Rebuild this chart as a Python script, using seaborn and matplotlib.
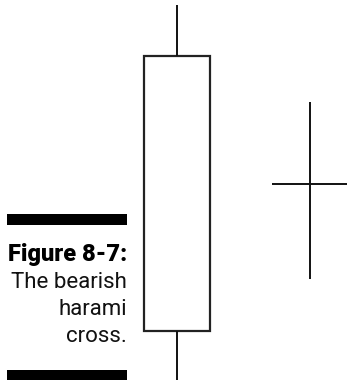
import matplotlib
matplotlib.use("Agg")
import matplotlib.pyplot as plt
import seaborn as sns
from matplotlib.patches import Rectangle

sns.set_theme(style="white")
plt.rcParams['font.family'] = ['Roboto', 'DejaVu Sans']

# Candle data (price units)
candles = ["Day 1", "Day 2"]
opens = [49, 196]
highs = [375, 278]
lows = [0, 101]
closes = [324, 196]

caption_title = "Figure 8-7:"
caption_lines = ["The bearish", "harami", "cross."]

W, H = 347, 380
fig = plt.figure(figsize=(W / 100, H / 100), dpi=100)
fig.patch.set_facecolor("white")
ax = fig.add_axes([0, 0, 1, 1])
ax.set_facecolor("white")

x = list(range(len(candles)))
ax.set_xlim(-1.331, 1.278)
ax.set_ylim(0, 380)
ax.axis("off")

lw = 1.4
body_w = 0.5
doji_w = 0.57
for i, o, h, l, c in zip(x, opens, highs, lows, closes):
    top = max(o, c)
    bot = min(o, c)
    if top - bot > 1:
        ax.vlines(i, top, h, color="#111111", lw=lw)
        ax.vlines(i, l, bot, color="#111111", lw=lw)
        ax.add_patch(Rectangle((i - body_w / 2, bot), body_w, top - bot,
                               facecolor="white", edgecolor="#222222", lw=1.6))
    else:
        ax.vlines(i, l, h, color="#111111", lw=lw)
        ax.hlines(o, i - doji_w / 2, i + doji_w / 2, color="#111111", lw=lw)

# caption decoration
xr = 127 / W
fig.patches.append(Rectangle((7 / W, 1 - 225 / H), 120 / W, 11 / H,
                             transform=fig.transFigure, facecolor="black",
                             edgecolor="none"))
fig.patches.append(Rectangle((7 / W, 0), 120 / W, 10 / H,
                             transform=fig.transFigure, facecolor="black",
                             edgecolor="none"))
fig.text(xr, 1 - 261 / H, caption_title, ha="right", va="baseline",
         fontsize=17, fontweight="black", color="black")
for k, line in enumerate(caption_lines):
    fig.text(xr, 1 - (288 + 27 * k) / H, line, ha="right", va="baseline",
             fontsize=16, color="#111111")

fig.savefig("out.png", dpi=100, facecolor="white")
